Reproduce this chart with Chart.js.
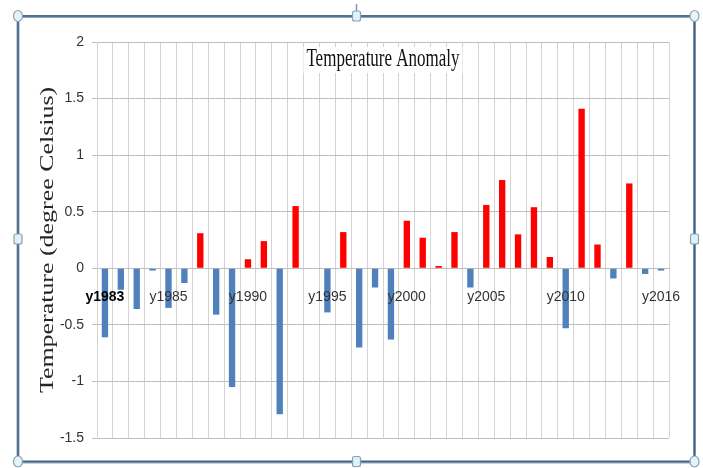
<!DOCTYPE html>
<html><head><meta charset="utf-8">
<script src="https://cdn.jsdelivr.net/npm/chart.js@4.4.1/dist/chart.umd.min.js"></script>
<style>html,body{margin:0;padding:0;background:#fff;}canvas{display:block}</style>
</head><body>
<canvas id="c" width="703" height="468"></canvas>
<script>
const years = ["y1981","y1982","y1983","y1984","y1985","y1986","y1987","y1988","y1989","y1990",
  "y1991","y1992","y1993","y1994","y1995","y1996","y1997","y1998","y1999","y2000",
  "y2001","y2002","y2003","y2004","y2005","y2006","y2007","y2008","y2009","y2010",
  "y2011","y2012","y2013","y2014","y2015","y2016"];
const anomalies = [-0.61,-0.19,-0.36,-0.02,-0.35,-0.13,0.31,-0.41,-1.05,0.08,
  0.24,-1.29,0.55,0,-0.39,0.32,-0.70,-0.17,-0.63,0.42,
  0.27,0.02,0.32,-0.17,0.56,0.78,0.30,0.54,0.10,-0.53,
  1.41,0.21,-0.09,0.75,-0.05,-0.02];
const tickIndices = [0,4,9,14,19,24,29,35];
const tickLabels = ["y1983","y1985","y1990","y1995","y2000","y2005","y2010","y2016"];
const yTicks = [-1.5,-1,-0.5,0,0.5,1,1.5,2];
const chartTitle = "Temperature Anomaly";
const yTitle = "Temperature (degree Celsius)";

const decor = {
  id: 'decor',
  afterDraw(chart) {
    const ctx = chart.ctx, a = chart.chartArea;
    // title with white box
    ctx.save();
    const cx = (a.left + a.right) / 2;
    ctx.font = '17px "Liberation Serif", "Times New Roman", serif';
    const w = ctx.measureText(chartTitle).width;
    ctx.fillStyle = '#fff';
    ctx.fillRect(cx - w / 2 - 3, 47, w + 6, 26);
    ctx.translate(cx, 60);
    ctx.scale(1, 1.45);
    ctx.textAlign = 'center';
    ctx.textBaseline = 'middle';
    ctx.fillStyle = '#111';
    ctx.fillText(chartTitle, 0, 0);
    ctx.restore();
    // y axis title
    ctx.save();
    ctx.font = '18px "Liberation Serif", "Times New Roman", serif';
    ctx.translate(48, (a.top + a.bottom) / 2);
    ctx.rotate(-Math.PI / 2);
    ctx.scale(1.44, 1);
    ctx.textAlign = 'center';
    ctx.textBaseline = 'middle';
    ctx.fillStyle = '#262626';
    ctx.fillText(yTitle, 0, 0);
    ctx.restore();
    // selection frame
    ctx.save();
    ctx.strokeStyle = '#8fa6bd';
    ctx.lineWidth = 3;
    ctx.strokeRect(18, 16.5, 676.5, 445.5);
    ctx.strokeStyle = '#3f5f80';
    ctx.lineWidth = 1.5;
    ctx.strokeRect(18, 16, 676.5, 445.5);
    ctx.strokeStyle = '#7f97ae';
    ctx.lineWidth = 1.5;
    ctx.beginPath(); ctx.moveTo(356.5, 4); ctx.lineTo(356.5, 12); ctx.stroke();
    const corners = [[18,16],[694.5,16],[18,461.5],[694.5,461.5]];
    corners.forEach(([x,y]) => {
      ctx.beginPath(); ctx.ellipse(x, y, 4.5, 5.5, 0, 0, Math.PI*2);
      ctx.fillStyle = '#e3f4fa'; ctx.fill();
      ctx.strokeStyle = '#8aa0b4'; ctx.lineWidth = 1.2; ctx.stroke();
    });
    const mids = [[356.5,16],[356.5,461.5],[18,239],[694.5,239]];
    mids.forEach(([x,y]) => {
      ctx.beginPath();
      if (ctx.roundRect) ctx.roundRect(x-4, y-5, 8, 10, 2); else ctx.rect(x-4,y-5,8,10);
      ctx.fillStyle = '#dff2fa'; ctx.fill();
      ctx.strokeStyle = '#8aa0b4'; ctx.lineWidth = 1.2; ctx.stroke();
    });
    ctx.restore();
  }
};

new Chart(document.getElementById('c'), {
  type: 'bar',
  data: {
    labels: years,
    datasets: [{
      label: chartTitle,
      data: anomalies,
      backgroundColor: anomalies.map(v => v >= 0 ? '#ff0000' : '#4f81bd'),
      borderWidth: 0,
      barPercentage: 0.4,
      categoryPercentage: 1.0
    }]
  },
  options: {
    responsive: false,
    animation: false,
    events: [],
    layout: { padding: { left: 0, top: 42, right: 34, bottom: 30 } },
    plugins: { legend: { display: false }, title: { display: false }, tooltip: { enabled: false } },
    scales: {
      x: {
        position: { y: 0 },
        grid: { color: '#d3d3d3', lineWidth: 1, offset: true, drawTicks: false },
        border: { color: '#bdbdbd' },
        ticks: {
          z: 1,
          autoSkip: false,
          maxRotation: 0,
          minRotation: 0,
          padding: 20,
          color: (c) => c.index === 0 ? '#000' : '#333',
          font: (c) => ({ family: '"Liberation Sans", Arial, sans-serif', size: 14, weight: c.index === 0 ? 'bold' : 'normal' }),
          callback: (v, i) => { const k = tickIndices.indexOf(i); return k >= 0 ? tickLabels[k] : ''; }
        }
      },
      y: {
        min: -1.5, max: 2,
        afterFit: (s) => { s.width = 97; },
        afterBuildTicks: (s) => { s.ticks = yTicks.map(v => ({ value: v })); },
        grid: { color: '#bfbfbf', lineWidth: 1, tickLength: 5 },
        border: { color: '#d3d3d3' },
        ticks: {
          padding: 8,
          color: '#333',
          font: { family: '"Liberation Sans", Arial, sans-serif', size: 14 },
          callback: (v) => String(v)
        }
      }
    }
  },
  plugins: [decor]
});
</script>
</body></html>
